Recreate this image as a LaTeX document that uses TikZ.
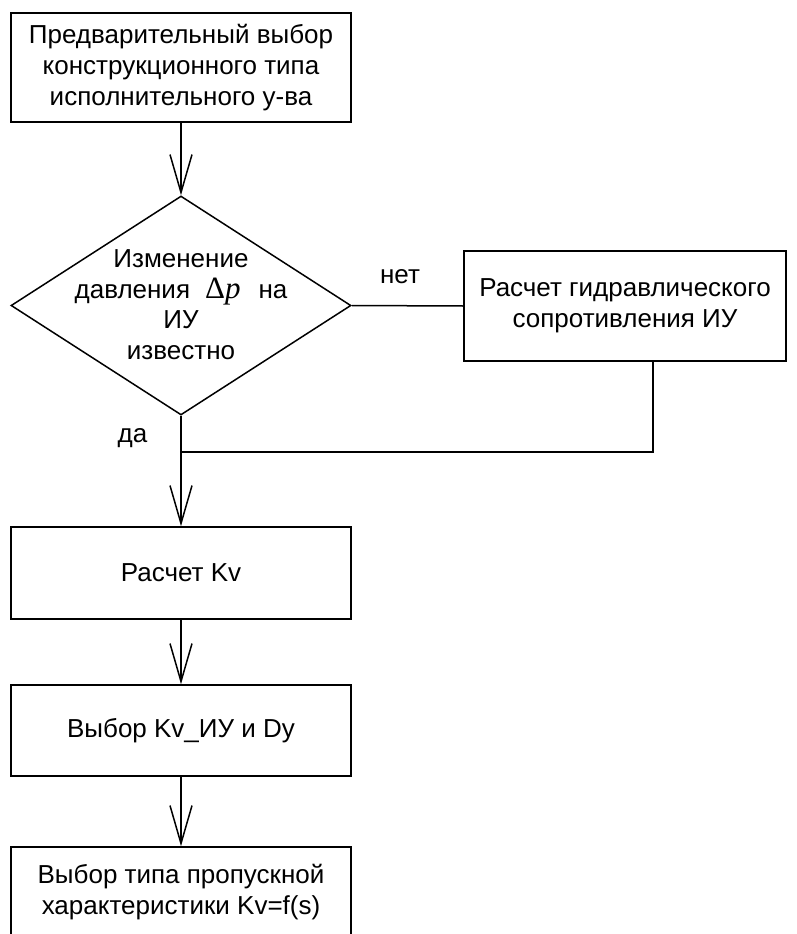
\documentclass[tikz,border=0pt]{standalone}
\usepackage{fontspec}
\setmainfont{Liberation Sans}
\newfontfamily\serifmath{Liberation Serif}
\usetikzlibrary{arrows.meta,shapes.geometric}
\begin{document}
\begin{tikzpicture}[x=1pt,y=-1pt,
  box/.style={draw, line width=1.5pt, font=\fontsize{26}{31}\selectfont, align=center, inner sep=0pt, minimum width=340pt},
  dia/.style={draw, shape=diamond, line width=1.5pt, inner sep=0pt, minimum width=340pt, minimum height=219pt},
  lbl/.style={font=\fontsize{26}{30.5}\selectfont, anchor=base, inner sep=0pt},
  conn/.style={line width=1.5pt},
  arr/.style={conn, -{Straight Barb[length=38pt,width=22pt,line width=1.5pt]}}]
\useasboundingbox (0,0) rectangle (796,934);
\clip (0,0) rectangle (796,934);
\node[box, minimum height=109pt] (b1) at (181,67.5) {Предварительный выбор\\конструкционного типа\\исполнительного у-ва};
\node[dia] (d) at (181,305.5) {};
\node[lbl, anchor=center, align=center] (dt) at (181,304.5) {Изменение\\давления\hspace{15pt}{\serifmath\fontsize{31}{27}\selectfont Δ\textit{p}}\hspace{18pt}на\\ИУ\\известно};
\node[box, minimum width=322pt, minimum height=110pt] (b2) at (625,306) {Расчет гидравлического\\сопротивления ИУ};
\node[box, minimum height=92pt] (kv) at (181,573) {Расчет Kv};
\node[box, minimum height=91pt] (sel) at (181,730.5) {Выбор Kv\_ИУ и Dy};
\node[box, minimum height=90pt] (typ) at (181,892) {Выбор типа пропускной\\характеристики Kv=f(s)};
\node[lbl] (net) at (400,283) {нет};
\node[lbl] (da) at (132.5,442) {да};
\coordinate (m) at (181,452);
\draw[arr] (b1.south) -- (d.north);
\draw[conn] (d.east) -- (b2.west);
\draw[arr] (d.south) -- (kv.north);
\draw[conn] ([xshift=28pt]b2.south) |- (m);
\draw[arr] (kv.south) -- (sel.north);
\draw[arr] (sel.south) -- (typ.north);
\end{tikzpicture}
\end{document}
